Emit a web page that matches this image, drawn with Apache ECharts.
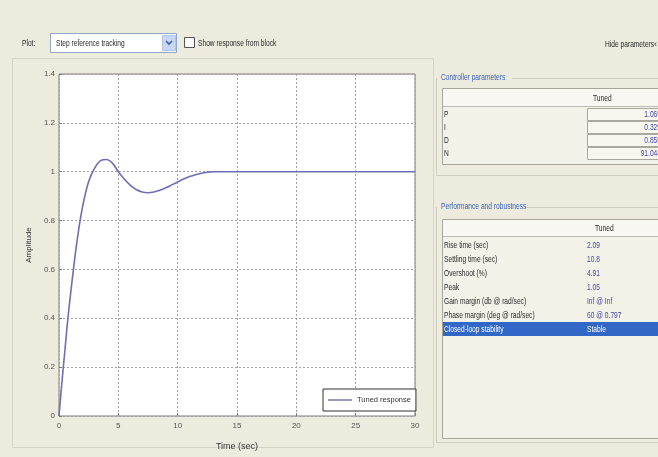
<!DOCTYPE html>
<html>
<head>
<meta charset="utf-8">
<script src="https://cdn.jsdelivr.net/npm/echarts@6/dist/echarts.min.js"></script>
<style>
  html, body { margin: 0; padding: 0; background: #ECEBDD; }
  #chart { width: 658px; height: 457px; }
</style>
</head>
<body>
<div id="chart"></div>
<script>
// Closed-loop step response of the tuned PID loop
const timeSec = [0, 0.25, 0.5, 0.75, 1, 1.5, 2, 2.5, 3, 3.5, 4, 4.5, 5, 5.5, 6, 6.5, 7, 7.5, 8, 8.5, 9, 9.5, 10, 10.5, 11, 11.5, 12, 12.5, 13, 14, 16, 20, 25, 30];
const amplitude = [0, 0.14, 0.27, 0.40, 0.51, 0.71, 0.86, 0.96, 1.015, 1.045, 1.05, 1.035, 1.0, 0.97, 0.945, 0.927, 0.917, 0.914, 0.917, 0.924, 0.934, 0.946, 0.958, 0.970, 0.980, 0.988, 0.994, 0.998, 1.0, 1.0, 1.0, 1.0, 1.0, 1.0];

const xTickStep = 5;
const yTickStep = 0.2;
const seriesName = 'Tuned response';

// Side panel contents
const controllerNames = ['P', 'I', 'D', 'N'];
const controllerValues = ['1.069', '0.329', '0.855', '91.044'];
const perfNames = ['Rise time (sec)', 'Settling time (sec)', 'Overshoot (%)', 'Peak',
  'Gain margin (db @ rad/sec)', 'Phase margin (deg @ rad/sec)', 'Closed-loop stability'];
const perfValues = ['2.09', '10.8', '4.91', '1.05', 'Inf @ Inf', '60 @ 0.797', 'Stable'];

const FONT = '"Liberation Sans", Arial, sans-serif';

function txt(x, y, text, o = {}) {
  return {
    type: 'text', x, y, scaleX: o.sx ?? 0.7, z: o.z ?? 10,
    style: {
      text, fill: o.color || '#2a2a2a',
      font: `${o.size || 9.5}px ${FONT}`,
      textAlign: o.align || 'left', textVerticalAlign: 'middle'
    }
  };
}
function box(x, y, w, h, fill, stroke, z) {
  return { type: 'rect', shape: { x, y, width: w, height: h }, z: z ?? 1,
    style: { fill: fill || 'none', stroke: stroke || null, lineWidth: 1 } };
}
function hline(x1, x2, y, color, z) {
  return { type: 'line', shape: { x1, y1: y, x2, y2: y }, z: z ?? 2, style: { stroke: color, lineWidth: 1 } };
}
function vline(x, y1, y2, color, z) {
  return { type: 'line', shape: { x1: x, y1, x2: x, y2 }, z: z ?? 2, style: { stroke: color, lineWidth: 1 } };
}

const graphics = [];

// Toolbar row
graphics.push(txt(22, 43, 'Plot:'));
graphics.push(box(50.5, 33.5, 126, 19, '#ffffff', '#8FA6C4'));
graphics.push(txt(56, 43, 'Step reference tracking'));
graphics.push(box(162.5, 35.5, 13, 15, '#C8D6F4', '#B4C4E4', 2));
graphics.push({ type: 'polyline', z: 3, shape: { points: [[166, 41], [169, 44], [172, 41]] },
  style: { stroke: '#3E5FA8', lineWidth: 1.6, fill: 'none' } });
graphics.push(box(184.5, 37.5, 10, 10, '#ffffff', '#555555'));
graphics.push(txt(198, 43, 'Show response from block'));
graphics.push(txt(605, 44, 'Hide parameters'));
graphics.push(txt(654, 44, '\u2039', { sx: 1 }));

// Plot panel outline
graphics.push(box(12.5, 58.5, 421, 389, null, '#D6D4C6', 0));

// Controller parameters group
graphics.push(txt(441, 77, 'Controller parameters', { color: '#3A62B8' }));
graphics.push(hline(512, 658, 78.5, '#CFCDBF'));
graphics.push(vline(436.5, 78, 176, '#CFCDBF'));
graphics.push(hline(436, 658, 175.5, '#CFCDBF'));
graphics.push(box(442.5, 88.5, 220, 76, '#F3F2E8', '#A8A69B'));
graphics.push(box(443, 89, 219, 17, '#F8F7F1', null, 2));
graphics.push(hline(443, 658, 106.5, '#BEBCB0'));
graphics.push(txt(593, 98, 'Tuned'));
const cRowY = [114, 127, 140, 153];
controllerNames.forEach((n, i) => {
  graphics.push(txt(444, cRowY[i], n));
  graphics.push(box(587.5, cRowY[i] - 5.5, 80, 12, '#F7F6EF', '#A9A89F', 3));
  graphics.push(txt(661, cRowY[i], controllerValues[i], { align: 'right', color: '#4646A6', z: 11 }));
});

// Performance and robustness group
graphics.push(txt(441, 206, 'Performance and robustness', { color: '#3A62B8' }));
graphics.push(hline(525, 658, 207.5, '#CFCDBF'));
graphics.push(vline(436.5, 207, 443, '#CFCDBF'));
graphics.push(hline(436, 658, 442.5, '#CFCDBF'));
graphics.push(box(442.5, 219.5, 220, 219, '#F3F2E8', '#A8A69B'));
graphics.push(box(443, 220, 219, 16, '#F8F7F1', null, 2));
graphics.push(hline(443, 658, 236.5, '#BEBCB0'));
graphics.push(txt(595, 228, 'Tuned'));
const pRowY0 = 245, pRowStep = 14;
perfNames.forEach((n, i) => {
  const y = pRowY0 + i * pRowStep;
  const last = i === perfNames.length - 1;
  if (last) graphics.push(box(443, y - 7, 219, 14, '#3168C8', null, 4));
  graphics.push(txt(444, y, n, { color: last ? '#ffffff' : '#2a2a2a' }));
  graphics.push(txt(587, y, perfValues[i], { color: last ? '#ffffff' : '#4646A6' }));
});

const chart = echarts.init(document.getElementById('chart'), null, { renderer: 'canvas' });
chart.setOption({
  backgroundColor: '#ECEBDD',
  animation: false,
  textStyle: { fontFamily: FONT },
  grid: {
    left: 59, right: 243, top: 74, bottom: 41,
    show: true, backgroundColor: '#ffffff', borderColor: '#7E7E7E', borderWidth: 1
  },
  xAxis: {
    type: 'value', min: 0, max: 30, interval: xTickStep,
    name: 'Time (sec)', nameLocation: 'middle', nameGap: 26,
    nameTextStyle: { fontSize: 9, color: '#333' },
    axisLine: { show: false },
    axisTick: { show: true, inside: true, length: 3, lineStyle: { color: '#7E7E7E' } },
    axisLabel: { fontSize: 8, color: '#555', margin: 6 },
    splitLine: { show: true, lineStyle: { color: '#A0A0A0', type: [2, 2], width: 1 } }
  },
  yAxis: {
    type: 'value', min: 0, max: 1.4, interval: yTickStep,
    name: 'Amplitude', nameLocation: 'middle', nameGap: 24,
    nameTextStyle: { fontSize: 8, color: '#333' },
    axisLine: { show: false },
    axisTick: { show: true, inside: true, length: 3, lineStyle: { color: '#7E7E7E' } },
    axisLabel: { fontSize: 8, color: '#555', margin: 4 },
    splitLine: { show: true, lineStyle: { color: '#A0A0A0', type: [2, 2], width: 1 } }
  },
  legend: {
    left: 323, top: 389,
    data: [{ name: seriesName, icon: 'rect' }],
    backgroundColor: '#ffffff', borderColor: '#333', borderWidth: 1,
    padding: [7, 5, 7, 5], itemWidth: 24, itemHeight: 1.5, itemGap: 5,
    textStyle: { fontSize: 7.5, color: '#333' }
  },
  series: [{
    name: seriesName,
    type: 'line',
    data: timeSec.map((t, i) => [t, amplitude[i]]),
    smooth: 0.35,
    symbol: 'none',
    lineStyle: { color: '#6E6EB4', width: 1.6 },
    itemStyle: { color: '#7A7AAE' }
  }],
  graphic: graphics
});
</script>
</body>
</html>
